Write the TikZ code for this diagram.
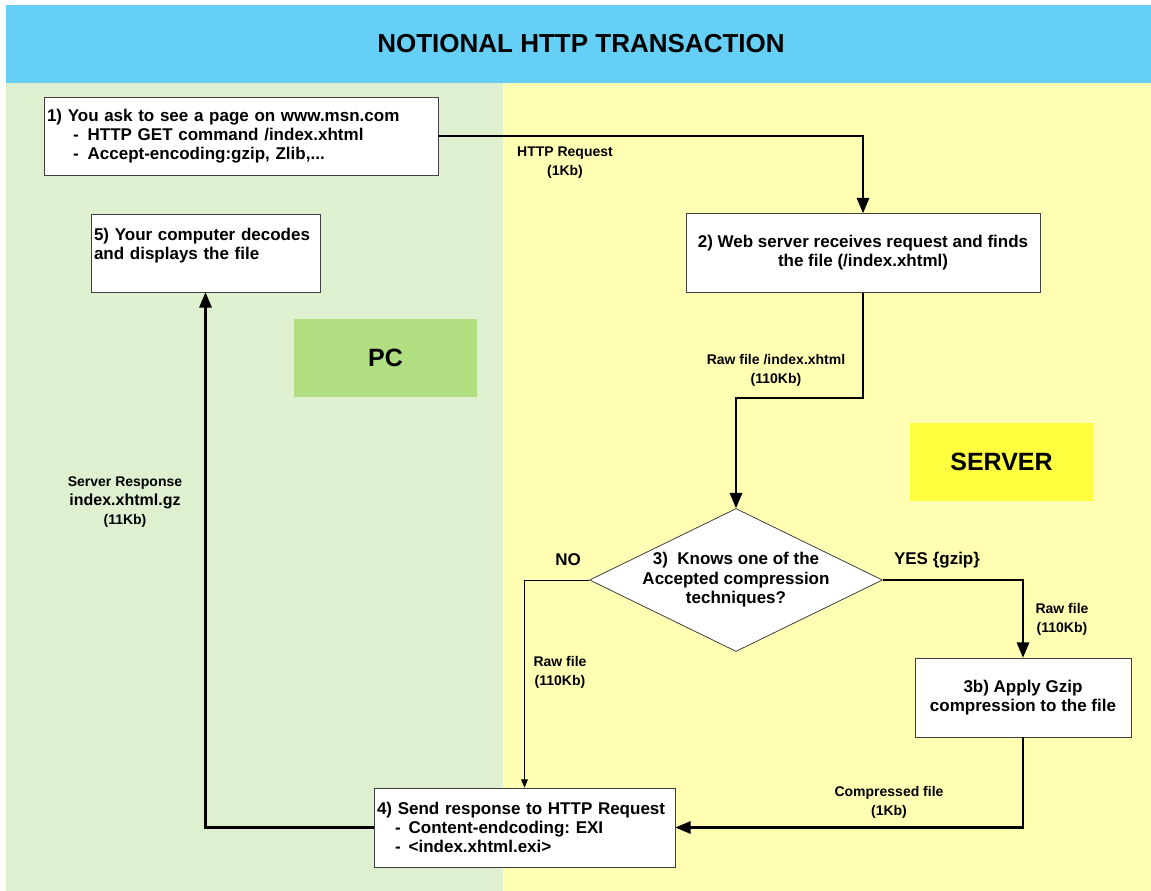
\documentclass[tikz,border=0pt]{standalone}
\usepackage{fontspec}
\setmainfont{Liberation Sans}
\usetikzlibrary{arrows,shapes.geometric}
\definecolor{bandblue}{HTML}{66CFF6}
\definecolor{pcgreen}{HTML}{DFF0D0}
\definecolor{srvyellow}{HTML}{FFFFB4}
\definecolor{pcbox}{HTML}{B2DE82}
\definecolor{srvbox}{HTML}{FFFF40}
\newcommand{\sz}[2]{\fontsize{#1}{#2}\selectfont\bfseries}
\frenchspacing

\begin{document}
\begin{tikzpicture}[x=1pt,y=-1pt,>=triangle 45,
  main node/.style={draw=black!75,fill=white,line width=0.8pt,inner sep=3pt,font=\sz{17}{19}},
  area node/.style={inner sep=0pt,minimum width=183pt,minimum height=78pt,font=\sz{25}{28}},
  tag node/.style={align=center,inner sep=0pt,font=\sz{14}{19}},
  big arrow/.style={->,line width=2.6pt},
  thin arrow/.style={->,line width=0.9pt}]
  \useasboundingbox (0,0) rectangle (1151,891);
  % backgrounds
  \fill[bandblue]  (6,5) rectangle (1151,83);
  \fill[pcgreen]   (6,83) rectangle (503,891);
  \fill[srvyellow] (503,83) rectangle (1151,891);
  \node[font=\sz{26}{30}] (title) at (581,44) {NOTIONAL HTTP TRANSACTION};
  \node[area node,fill=pcbox]  (pc)  at (385.5,358) {PC};
  \node[area node,fill=srvbox] (srv) at (1001.5,462) {SERVER};
  % steps
  \node[main node,minimum width=394pt,minimum height=78pt,text width=388pt,align=left]
    (b1) at (241,136) {1) You ask to see a page on www.msn.com\\
      \hspace*{26pt}-\hspace*{9pt}HTTP GET command /index.xhtml\\
      \hspace*{26pt}-\hspace*{9pt}Accept-encoding:gzip, Zlib,...};
  \node[main node,minimum width=354pt,minimum height=79pt,align=center]
    (b2) at (863,253) {2) Web server receives request and finds\\the file (/index.xhtml)};
  \node[main node,diamond,inner sep=0pt,minimum width=293pt,minimum height=143pt]
    (d3) at (736,580) {};
  \node[align=center,inner sep=0pt,font=\sz{17}{19.5}]
    (d3t) at (d3.center) {3)\ \ Knows one of the\\Accepted compression\\techniques?};
  \node[main node,minimum width=216pt,minimum height=79pt,align=center]
    (b3b) at (1023,697.5) {3b) Apply Gzip\\compression to the file};
  \node[main node,minimum width=301pt,minimum height=79pt,text width=295pt,align=left]
    (b4) at (524.5,827.5) {4) Send response to HTTP Request\\
      \hspace*{18pt}-\hspace*{8pt}Content-endcoding: EXI\\
      \hspace*{18pt}-\hspace*{8pt}<index.xhtml.exi>};
  \node[main node,minimum width=229pt,minimum height=78pt,text width=223pt,align=left]
    (b5) at (205.5,253) {5) Your computer decodes\\and displays the file\\\mbox{}};
  % connectors
  \draw[big arrow] (b1.east) -| (b2.north);
  \draw[big arrow] (b2.south) -- ++(0,105) -| (d3.north);
  \draw[big arrow] (d3.east) -| (b3b.north);
  \draw[thin arrow] (d3.west) -| (b4.north);
  \draw[big arrow] (b3b.south) |- (b4.east);
  \draw[big arrow] (b4.west) -| (b5.south);
  % connector labels
  \node[tag node] (lreq)  at (565,162.5) {HTTP Request\\(1Kb)};
  \node[tag node] (lraw)  at (776,370)   {Raw file /index.xhtml\\(110Kb)};
  \node[tag node,font=\sz{17}{19}] (lyes) at (937,560) {YES \{gzip\}};
  \node[tag node,font=\sz{17}{19}] (lno)  at (568,560) {NO};
  \node[tag node] (lrawr) at (1062,619)  {Raw file\\(110Kb)};
  \node[tag node] (lrawl) at (560,672.5) {Raw file\\(110Kb)};
  \node[tag node] (lcomp) at (889,802.5) {Compressed file\\(1Kb)};
  \node[tag node] (lresp) at (125,502)
    {Server Response\\{\sz{16}{19}index.xhtml.gz}\\(11Kb)};
\end{tikzpicture}
\end{document}
